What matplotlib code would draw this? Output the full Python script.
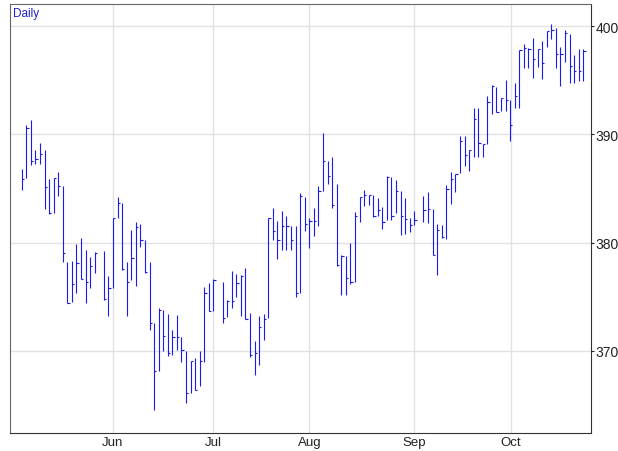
import matplotlib
matplotlib.use("Agg")
import matplotlib.pyplot as plt

# trading day slots (gaps = holidays)
holidays = [17, 43, 87]
day = [i for i in range(124) if i not in holidays]

high = [386.8, 390.9, 391.3, 388.6, 389.2, 388.6, 385.9, 386.0, 386.5, 385.2,
        378.2, 378.3, 379.9, 380.4, 379.3, 378.7, 379.1, 379.2, 376.9, 382.3,
        384.2, 383.7, 378.2, 381.2, 381.9, 381.7, 380.2, 378.2, 372.6, 374.0,
        373.8, 373.4, 371.9, 373.3, 371.3, 370.0, 369.1, 369.3, 370.0, 375.9,
        376.3, 376.6, 376.4, 374.7, 377.4, 377.1, 377.0, 377.7, 373.5, 370.9,
        373.2, 373.4, 382.3, 383.2, 382.0, 382.9, 382.5, 381.5, 381.5, 384.6,
        384.2, 382.3, 383.2, 385.2, 390.1, 387.5, 387.9, 385.4, 378.9, 378.8,
        380.0, 382.8, 384.2, 384.9, 384.4, 384.4, 384.1, 383.3, 386.2, 386.1,
        385.8, 384.8, 384.1, 382.3, 382.9, 384.3, 384.7, 383.1, 381.7, 381.6,
        385.3, 386.5, 386.3, 389.9, 389.9, 388.6, 392.4, 392.4, 389.1, 393.6,
        394.6, 394.4, 393.4, 395.0, 393.2, 394.8, 397.8, 398.4, 398.0, 398.9,
        397.9, 398.6, 399.6, 400.2, 399.8, 398.1, 399.7, 399.3, 397.3, 397.9,
        397.9]
low = [384.9, 386.0, 387.2, 387.3, 387.3, 383.1, 382.6, 382.7, 384.3, 378.2,
       374.4, 374.5, 375.3, 376.6, 374.4, 375.8, 377.2, 374.7, 373.2, 375.8,
       382.3, 377.5, 373.2, 376.5, 376.0, 379.6, 377.2, 371.9, 364.5, 368.1,
       370.0, 369.5, 369.6, 370.1, 369.0, 365.2, 366.1, 366.4, 366.7, 369.0,
       373.7, 373.7, 372.6, 373.1, 374.0, 375.0, 373.2, 372.9, 369.4, 367.8,
       368.7, 371.0, 373.0, 380.2, 378.5, 379.3, 379.3, 379.3, 375.0, 375.3,
       381.1, 379.5, 380.6, 381.5, 384.8, 385.4, 383.2, 377.8, 375.2, 375.2,
       376.2, 376.4, 381.9, 383.4, 383.5, 382.4, 382.5, 381.3, 382.1, 382.1,
       382.7, 380.7, 380.8, 381.0, 381.6, 381.9, 381.8, 378.9, 377.0, 380.4,
       380.3, 383.6, 384.7, 386.4, 387.1, 386.6, 387.9, 387.9, 387.9, 389.1,
       391.9, 392.1, 392.2, 392.2, 389.4, 392.4, 392.4, 396.1, 396.1, 395.2,
       396.2, 395.1, 398.1, 398.8, 396.1, 394.5, 396.7, 394.8, 394.8, 394.9,
       394.9]
close = [385.9, 390.6, 387.5, 387.7, 388.2, 385.1, 382.7, 386.0, 385.2, 379.0,
         374.4, 376.2, 378.1, 376.6, 376.4, 377.8, 379.0, 374.8, 375.8, 382.3,
         383.7, 377.6, 376.4, 378.6, 381.4, 380.2, 377.3, 372.6, 368.1, 373.8,
         371.4, 369.8, 371.3, 371.3, 370.1, 366.1, 369.1, 366.4, 369.1, 375.3,
         373.7, 376.5, 373.0, 374.6, 374.6, 376.3, 376.9, 372.9, 369.6, 369.8,
         372.2, 372.9, 382.3, 381.1, 380.2, 381.5, 381.5, 380.2, 375.3, 384.3,
         381.7, 382.0, 382.0, 384.8, 387.5, 386.2, 383.5, 377.9, 378.8, 376.7,
         376.4, 382.5, 384.2, 384.4, 384.4, 382.5, 383.0, 381.9, 386.1, 382.5,
         384.8, 382.5, 382.2, 381.6, 382.1, 383.0, 383.1, 378.9, 381.2, 380.5,
         385.0, 385.9, 386.3, 389.4, 388.1, 388.6, 391.4, 389.2, 389.1, 393.0,
         394.5, 392.1, 393.4, 393.2, 390.9, 393.6, 397.8, 398.0, 397.9, 397.0,
         397.9, 396.6, 399.6, 399.7, 397.4, 397.4, 399.4, 396.3, 395.9, 395.9,
         397.7]

month_pos = [20, 42, 63, 86, 107.2]
month_lab = ["Jun", "Jul", "Aug", "Sep", "Oct"]
yticks = [370, 380, 390, 400]

plt.rcParams["font.family"] = ["Liberation Sans Narrow", "Liberation Sans", "DejaVu Sans"]
fig = plt.figure(figsize=(6.18, 4.52), dpi=100)
ax = fig.add_axes([10 / 618, 18 / 452, 581 / 618, 429 / 452])

bar_col = "#1a1af5"
ax.vlines(day, low, high, color=bar_col, lw=0.8)
ax.hlines(close, day, [d + 0.5 for d in day], color=bar_col, lw=0.8)

ax.set_xlim(-2.56, 124.7)
ax.set_ylim(362.4, 402.06)
ax.set_xticks(month_pos)
ax.set_xticklabels(month_lab)
ax.set_yticks(yticks)
ax.yaxis.tick_right()
ax.tick_params(axis="both", labelsize=10, colors="#222222", length=2, width=0.8, pad=1)
ax.tick_params(axis="x", length=0, pad=2, labelsize=9.5)
ax.grid(True, color="#e2e2e2", lw=1)
ax.set_axisbelow(True)
for s in ["left", "top"]:
    ax.spines[s].set_color("#666666")
for s in ["right", "bottom"]:
    ax.spines[s].set_color("#333333")

ax.text(0.006, 0.992, "Daily", transform=ax.transAxes, va="top", ha="left",
        color="#2020d0", fontsize=8.5)

fig.savefig("out.png", dpi=100)
